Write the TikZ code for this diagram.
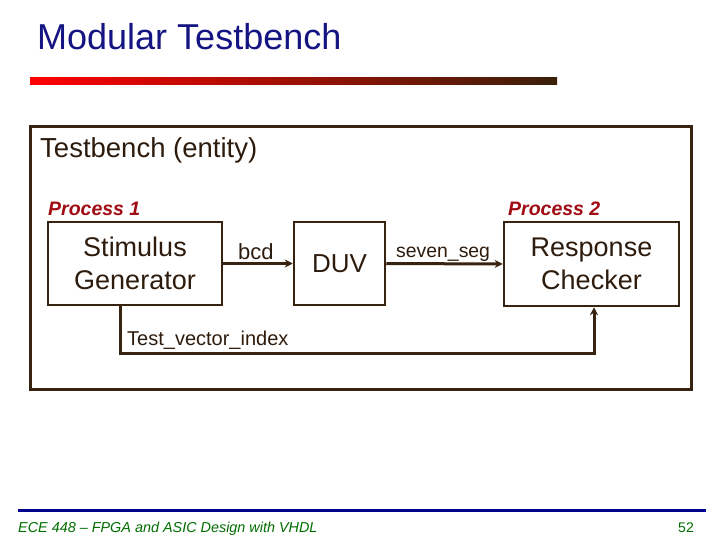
\documentclass[tikz,border=0pt]{standalone}
\usepackage{fontspec}
\setmainfont{Liberation Sans}
\usetikzlibrary{arrows.meta}
\definecolor{brn}{RGB}{56,34,16}
\definecolor{txtbrn}{RGB}{45,28,14}
\definecolor{ttl}{RGB}{20,20,130}
\definecolor{procred}{RGB}{160,12,20}
\definecolor{barend}{RGB}{58,32,10}
\definecolor{footblue}{RGB}{0,0,140}
\definecolor{footgreen}{RGB}{0,110,0}
\begin{document}
\begin{tikzpicture}[x=1pt,y=-1pt,
  blk/.style={draw=brn, line width=2.5pt, inner sep=0pt, text=txtbrn, align=center,
    font=\fontsize{27}{33}\selectfont},
  lbl/.style={inner sep=0pt, anchor=base west, text=txtbrn},
  proc/.style={inner sep=0pt, anchor=base west, text=procred, font=\fontsize{19.5}{22}\selectfont\bfseries\itshape},
  wire/.style={draw=brn, line width=3pt, -{Stealth[length=8pt,width=8pt]}}]
\useasboundingbox[fill=white] (0,0) rectangle (720,540);
% title
\node[inner sep=0pt, anchor=base west, text=ttl, font=\fontsize{36}{40}\selectfont] (title) at (37,50) {Modular Testbench};
\shade[left color=red, right color=barend] (30,78) rectangle (557,85);
% outer box
\node[draw=brn, line width=3pt, minimum width=661pt, minimum height=262pt, inner sep=0pt] (tb) at (360.5,258) {};
\node[lbl, font=\fontsize{27.5}{32}\selectfont] (tbl) at (40,158) {Testbench (entity)};
% processes
\node[proc] (p1) at (48,215) {Process 1};
\node[proc] (p2) at (508,215) {Process 2};
% blocks
\node[blk, minimum width=174pt, minimum height=83pt] (stim) at (135,263.5) {Stimulus\\Generator};
\node[blk, minimum width=91pt, minimum height=83pt, font=\fontsize{26}{30}\selectfont] (duv) at (339.5,263.5) {DUV};
\node[blk, minimum width=175pt, minimum height=84pt] (resp) at (591.5,264) {Response\\Checker};
% wires
\draw[wire] (stim.east) -- (duv.west);
\draw[wire] (duv.east) -- (resp.west);
\node[lbl, font=\fontsize{22}{26}\selectfont] (bcd) at (238,259) {bcd};
\node[lbl, font=\fontsize{19.4}{23}\selectfont] (ss) at (396,257) {seven\_seg};
\coordinate (fa) at (120,353);
\coordinate (fb) at (594,353);
\draw[wire] (stim.south -| fa) |- (fb) -- (resp.south -| fb);
\node[lbl, font=\fontsize{20}{24}\selectfont] (tvi) at (127,345) {Test\_vector\_index};
% footer
\draw[footblue, line width=3pt] (18,510) -- (706,510);
\node[inner sep=0pt, anchor=base west, text=footgreen, font=\fontsize{14.4}{16}\selectfont\itshape] (foot) at (18,532) {ECE 448 – FPGA and ASIC Design with VHDL};
\node[inner sep=0pt, anchor=base east, text=footgreen, font=\fontsize{14}{16}\selectfont] (pg) at (694,532) {52};
\end{tikzpicture}
\end{document}
